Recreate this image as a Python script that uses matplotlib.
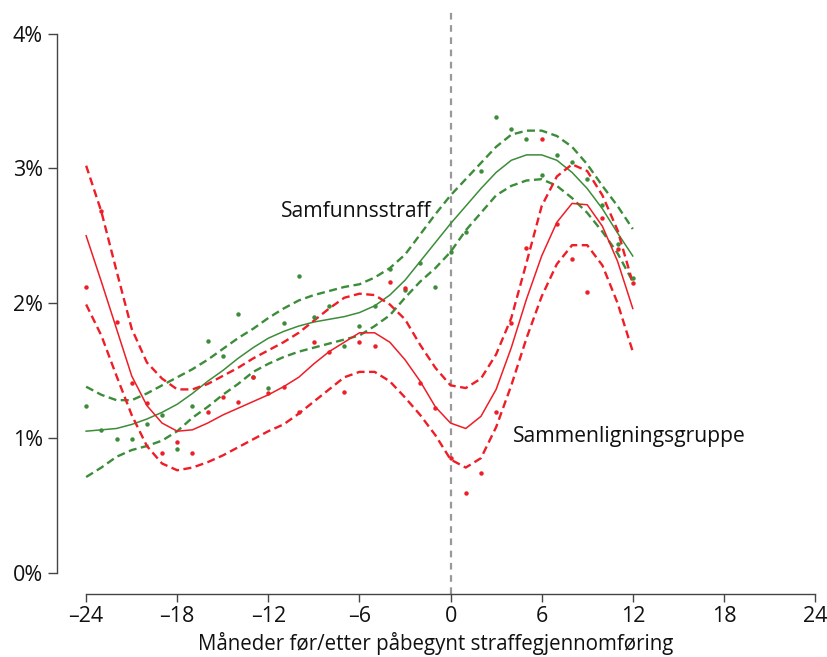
import matplotlib

matplotlib.use("Agg")
import matplotlib.pyplot as plt
import numpy as np

plt.rcParams["font.family"] = ["Open Sans", "DejaVu Sans"]

months = np.arange(-24, 13)

# Samfunnsstraff (green): observed points, fitted line, confidence band
samf_obs = [1.24, 1.06, 0.99, 0.99, 1.10, 1.17, 0.92, 1.24, 1.72, 1.61, 1.92, 1.45,
            1.37, 1.85, 2.20, 1.90, 1.98, 1.68, 1.83, 1.98, 2.25, 2.10, 2.30, 2.12,
            2.38, 2.53, 2.98, 3.38, 3.29, 3.22, 2.95, 3.10, 3.05, 2.92, 2.73, 2.44, 2.19]
samf_fit = [1.05, 1.06, 1.07, 1.10, 1.14, 1.19, 1.25, 1.33, 1.42, 1.50, 1.59, 1.67,
            1.74, 1.79, 1.83, 1.86, 1.88, 1.90, 1.93, 1.98, 2.06, 2.17, 2.31, 2.45,
            2.59, 2.72, 2.85, 2.97, 3.06, 3.10, 3.10, 3.06, 2.97, 2.85, 2.70, 2.52, 2.35]
samf_hi = [1.38, 1.32, 1.28, 1.28, 1.33, 1.39, 1.45, 1.51, 1.58, 1.66, 1.74, 1.81,
           1.89, 1.96, 2.02, 2.06, 2.09, 2.12, 2.14, 2.19, 2.26, 2.36, 2.51, 2.66,
           2.80, 2.92, 3.04, 3.16, 3.25, 3.28, 3.28, 3.24, 3.16, 3.03, 2.87, 2.72, 2.55]
samf_lo = [0.71, 0.78, 0.86, 0.91, 0.94, 0.98, 1.05, 1.15, 1.23, 1.32, 1.40, 1.49,
           1.55, 1.60, 1.64, 1.67, 1.70, 1.73, 1.76, 1.83, 1.91, 2.04, 2.16, 2.26,
           2.38, 2.54, 2.67, 2.80, 2.87, 2.91, 2.92, 2.87, 2.78, 2.67, 2.53, 2.37, 2.16]

# Sammenligningsgruppe (red)
comp_obs = [2.12, 2.68, 1.86, 1.41, 1.26, 0.89, 0.97, 0.89, 1.19, 1.30, 1.27, 1.45,
            1.33, 1.38, 1.19, 1.71, 1.64, 1.34, 1.71, 1.68, 2.16, 2.11, 1.41, 1.22,
            0.85, 0.59, 0.74, 1.19, 1.85, 2.41, 3.22, 2.59, 2.33, 2.08, 2.63, 2.40, 2.15]
comp_fit = [2.50, 2.16, 1.81, 1.46, 1.24, 1.11, 1.05, 1.06, 1.11, 1.17, 1.22, 1.27,
            1.32, 1.38, 1.45, 1.55, 1.64, 1.71, 1.78, 1.78, 1.71, 1.58, 1.42, 1.23,
            1.11, 1.07, 1.16, 1.36, 1.67, 2.03, 2.35, 2.60, 2.74, 2.73, 2.57, 2.31, 1.96]
comp_hi = [3.02, 2.68, 2.24, 1.81, 1.56, 1.44, 1.36, 1.36, 1.40, 1.46, 1.52, 1.59,
           1.65, 1.71, 1.78, 1.87, 1.96, 2.04, 2.07, 2.06, 1.99, 1.88, 1.69, 1.52,
           1.39, 1.37, 1.44, 1.62, 1.89, 2.30, 2.72, 2.94, 3.03, 2.98, 2.80, 2.54, 2.15]
comp_lo = [1.99, 1.76, 1.46, 1.17, 0.94, 0.81, 0.76, 0.78, 0.82, 0.87, 0.93, 0.99,
           1.05, 1.10, 1.18, 1.27, 1.36, 1.45, 1.49, 1.49, 1.42, 1.30, 1.17, 1.02,
           0.84, 0.78, 0.85, 1.08, 1.39, 1.74, 2.05, 2.29, 2.43, 2.43, 2.28, 2.00, 1.64]

x_ticks = [-24, -18, -12, -6, 0, 6, 12, 18, 24]
x_labels = ["\u201324", "\u201318", "\u201312", "\u20136", "0", "6", "12", "18", "24"]
y_ticks = [0, 1, 2, 3, 4]
y_labels = ["0%", "1%", "2%", "3%", "4%"]

GREEN = "#3c8c3a"
RED = "#ee1d26"
AXIS = "#444444"
dash = (0, (3.4, 1.9))

fig = plt.figure(figsize=(8.28, 6.57), dpi=100)
ax = fig.add_axes([0.0692, 0.0959, 0.9151, 0.8858])
ax.set_xlim(-25.9, 24)
ax.set_ylim(-0.158, 4.16)

ax.axvline(0, color="#999999", lw=1.6, linestyle=(0, (3, 2.5)), zorder=1)

for obs, fit, hi, lo, col in [
    (samf_obs, samf_fit, samf_hi, samf_lo, GREEN),
    (comp_obs, comp_fit, comp_hi, comp_lo, RED),
]:
    ax.plot(months, fit, color=col, lw=1.1, zorder=3)
    ax.plot(months, hi, color=col, lw=1.7, linestyle=dash, zorder=3)
    ax.plot(months, lo, color=col, lw=1.7, linestyle=dash, zorder=3)
    ax.plot(months, obs, linestyle="none", marker="o", ms=3.2, mew=0,
            color=col, zorder=4)

ax.text(-11.2, 2.68, "Samfunnsstraff", fontsize=15.2, ha="left", va="center",
        color="#111111")
ax.text(4.1, 1.01, "Sammenligningsgruppe", fontsize=15.2, ha="left", va="center",
        color="#111111")

for side in ["top", "right"]:
    ax.spines[side].set_visible(False)
ax.spines["left"].set_bounds(0, 4)
ax.spines["bottom"].set_bounds(-24, 24)
for side in ["left", "bottom"]:
    ax.spines[side].set_color(AXIS)
    ax.spines[side].set_linewidth(1.0)

ax.set_xticks(x_ticks)
ax.set_xticklabels(x_labels)
ax.set_yticks(y_ticks)
ax.set_yticklabels(y_labels)
ax.tick_params(axis="both", colors=AXIS, labelcolor="#111111", labelsize=15.5,
               width=1.0)
ax.tick_params(axis="y", length=6.5, pad=4)
ax.tick_params(axis="x", length=5.5, pad=3)

ax.set_xlabel("Måneder før/etter påbegynt straffegjennomføring", fontsize=14.8,
              color="#111111", labelpad=4)

fig.savefig("out.png", dpi=100)
